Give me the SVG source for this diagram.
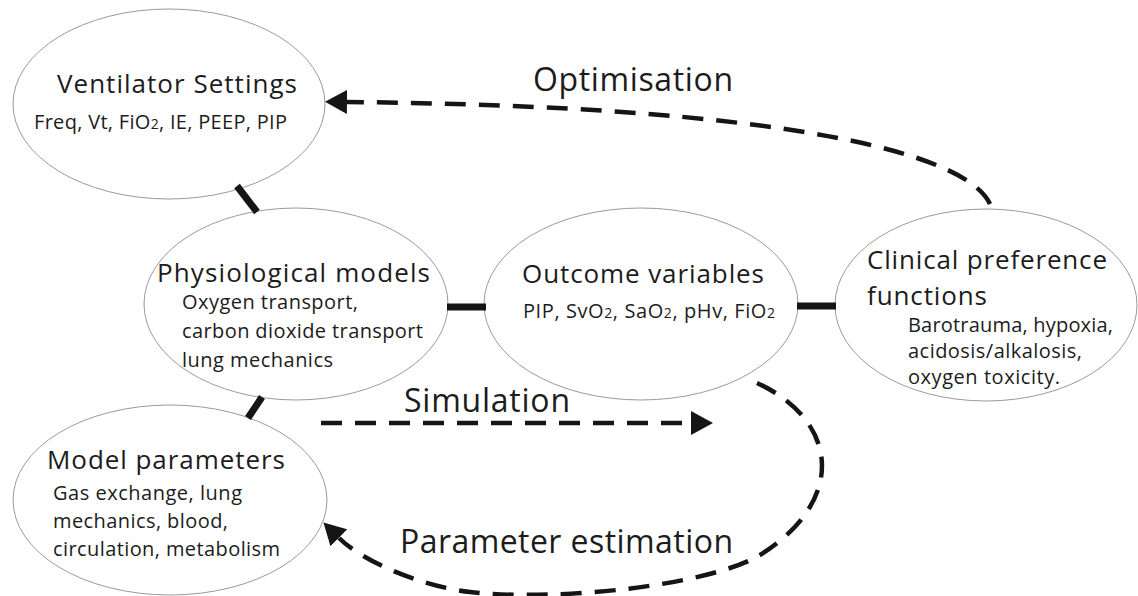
<svg xmlns="http://www.w3.org/2000/svg" width="1138" height="596" viewBox="0 0 1138 596">
<style>
.node{fill:#fff;stroke:#9a9a9a;stroke-width:1}
.title{font-family:"Open Sans","Noto Sans","Liberation Sans",sans-serif;font-size:26px;fill:#1c1c1c}
.sub{font-family:"Open Sans","Noto Sans","Liberation Sans",sans-serif;font-size:20px;fill:#1c1c1c}
.lbl{font-family:"Open Sans","Noto Sans","Liberation Sans",sans-serif;font-size:32px;fill:#1c1c1c}
.s2{font-size:14px}
.link{stroke:#151515;stroke-width:7;fill:none}
.flow{stroke:#151515;stroke-width:4.5;fill:none;stroke-dasharray:21 13;marker-end:url(#arr)}
</style>
<defs>
<marker id="arr" markerUnits="userSpaceOnUse" viewBox="0 0 22 24" refX="0" refY="12" markerWidth="22" markerHeight="24" orient="auto">
<path d="M0,0 L22,12 L0,24 Z" fill="#151515"/>
</marker>
</defs>
<rect width="1138" height="596" fill="#fff"/>

<g id="ventilator-settings">
<ellipse class="node" cx="169" cy="104" rx="156" ry="95"/>
<text class="title" x="57" y="93" textLength="240">Ventilator Settings</text>
<text class="sub" x="34" y="129" textLength="253">Freq, Vt, FiO<tspan class="s2">2</tspan>, IE, PEEP, PIP</text>
</g>

<g id="physiological-models">
<ellipse class="node" cx="296" cy="304" rx="152" ry="96"/>
<text class="title" x="157" y="282" textLength="273">Physiological models</text>
<text class="sub" x="182" y="309" textLength="176">Oxygen transport,</text>
<text class="sub" x="182" y="338" textLength="241">carbon dioxide transport</text>
<text class="sub" x="182" y="367" textLength="151">lung mechanics</text>
</g>

<g id="outcome-variables">
<ellipse class="node" cx="641" cy="304" rx="157" ry="96"/>
<text class="title" x="522" y="283" textLength="242">Outcome variables</text>
<text class="sub" x="523" y="318" textLength="252">PIP, SvO<tspan class="s2">2</tspan>, SaO<tspan class="s2">2</tspan>, pHv, FiO<tspan class="s2">2</tspan></text>
</g>

<g id="clinical-preference-functions">
<ellipse class="node" cx="986" cy="305" rx="151" ry="96"/>
<text class="title" x="867" y="269" textLength="240">Clinical preference</text>
<text class="title" x="867" y="305" textLength="120">functions</text>
<text class="sub" x="908" y="332" textLength="205">Barotrauma, hypoxia,</text>
<text class="sub" x="908" y="358" textLength="174">acidosis/alkalosis,</text>
<text class="sub" x="908" y="384" textLength="152">oxygen toxicity.</text>
</g>

<g id="model-parameters">
<ellipse class="node" cx="170" cy="500" rx="157" ry="95"/>
<text class="title" x="47" y="469" textLength="238">Model parameters</text>
<text class="sub" x="53" y="500" textLength="189">Gas exchange, lung</text>
<text class="sub" x="53" y="528" textLength="175">mechanics, blood,</text>
<text class="sub" x="53" y="556" textLength="227">circulation, metabolism</text>
</g>

<g id="connectors">
<line class="link" x1="237" y1="186" x2="257" y2="212"/>
<line class="link" x1="447" y1="307" x2="486" y2="307"/>
<line class="link" x1="797" y1="306" x2="836" y2="306"/>
<line class="link" x1="262" y1="397" x2="248" y2="418"/>
<path class="flow" d="M990 204 C966 152 780 106 347 102"/>
<path class="flow" d="M321 423 L691 423"/>
<path class="flow" d="M757 383 C838 420 848 500 760 555 C710 585 560 602 470 592 C420 586 362 561 339 538"/>
<text class="lbl" x="533" y="91" textLength="200">Optimisation</text>
<text class="lbl" x="404" y="412" textLength="166">Simulation</text>
<text class="lbl" x="400" y="553" textLength="333">Parameter estimation</text>
</g>
</svg>
